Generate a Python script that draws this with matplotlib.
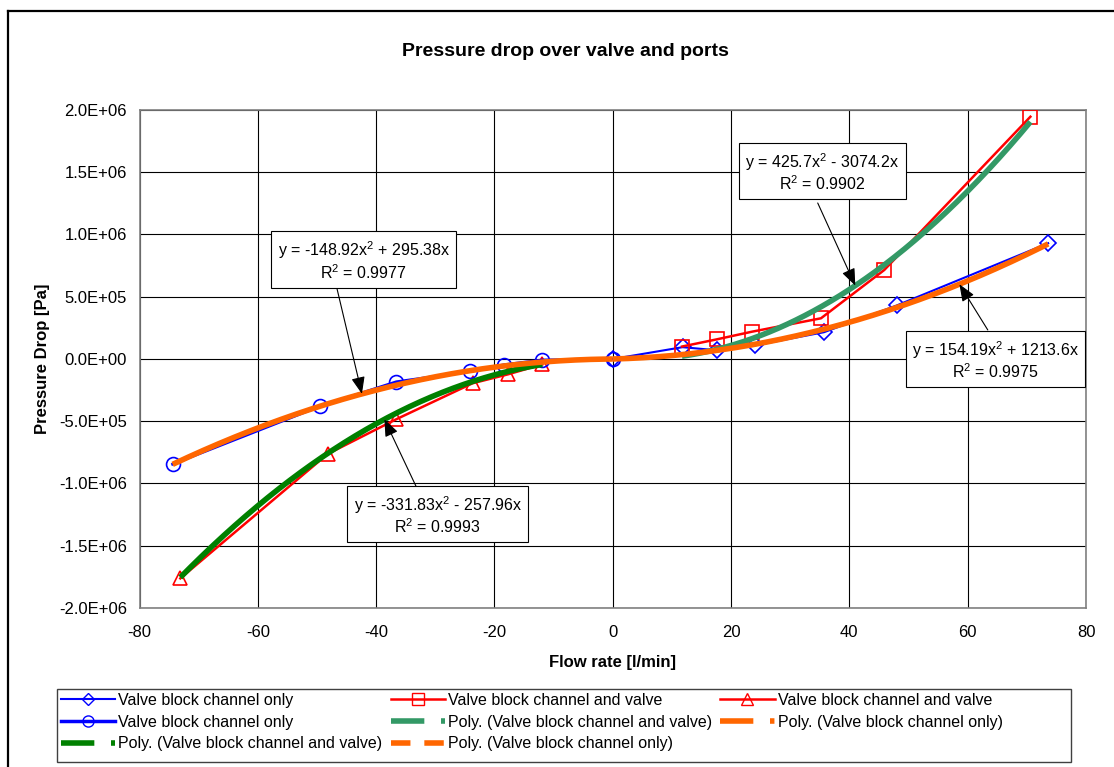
import matplotlib
matplotlib.use("Agg")
import matplotlib.pyplot as plt
import numpy as np
from matplotlib.lines import Line2D
from matplotlib.patches import Rectangle
from matplotlib.ticker import FuncFormatter, MultipleLocator

plt.rcParams["font.family"] = ["Liberation Sans", "DejaVu Sans"]
plt.rcParams["axes.unicode_minus"] = False
plt.rcParams["mathtext.fontset"] = "custom"
plt.rcParams["mathtext.rm"] = "Liberation Sans"
plt.rcParams["mathtext.it"] = "Liberation Sans:italic"

# measured points: flow rate [l/min], pressure drop [Pa]
flow_only_pos = [0.0, 11.8, 17.6, 24.1, 35.7, 48.0, 73.6]
dp_only_pos = [0.0, 0.95e5, 0.70e5, 1.10e5, 2.15e5, 4.30e5, 9.30e5]

flow_only_neg = [-74.4, -49.5, -36.6, -24.1, -18.4, -12.0, 0.0]
dp_only_neg = [-8.45e5, -3.80e5, -1.83e5, -1.00e5, -0.46e5, -0.08e5, 0.0]

flow_valve_pos = [11.7, 17.6, 23.5, 35.2, 45.9, 70.6]
dp_valve_pos = [1.00e5, 1.58e5, 2.19e5, 3.27e5, 7.15e5, 1.946e6]

flow_valve_neg = [-73.1, -48.2, -36.6, -23.7, -17.7, -11.9]
dp_valve_neg = [-1.762e6, -7.63e5, -4.84e5, -1.95e5, -1.23e5, -0.43e5]

# Excel "Poly." trendlines, coefficients for x^2, x, 1
coef_only_pos = [154.19, 1213.6, 0.0]
coef_only_neg = [-148.92, 295.38, 0.0]
coef_valve_pos = [425.7, -3074.2, 0.0]
coef_valve_neg = [-331.83, -257.96, 0.0]

eq_only_pos = "y = 154.19x$^2$ + 1213.6x\nR$^2$ = 0.9975"
eq_only_neg = "y = -148.92x$^2$ + 295.38x\nR$^2$ = 0.9977"
eq_valve_pos = "y = 425.7x$^2$ - 3074.2x\nR$^2$ = 0.9902"
eq_valve_neg = "y = -331.83x$^2$ - 257.96x\nR$^2$ = 0.9993"

BLUE = "#0000FF"
RED = "#FF0000"
ORANGE = "#FF6600"
SEA = "#339966"
GREEN = "#008000"

W, H = 1114, 767
fig = plt.figure(figsize=(W / 100, H / 100), dpi=100)


def fpos(x, y):
    """pixel position (from top-left) -> figure fraction"""
    return x / W, 1 - y / H


ax = fig.add_axes([139.5 / W, 1 - 608 / H, 946.5 / W, 498 / H])

# data series
ax.plot(flow_only_pos, dp_only_pos, color=BLUE, lw=1.5, marker="D", ms=8,
        mfc="none", mec=BLUE, mew=1.2, zorder=3)
ax.plot(flow_valve_pos, dp_valve_pos, color=RED, lw=1.8, marker="s", ms=10,
        mfc="none", mec=RED, mew=1.2, zorder=3)
ax.plot(flow_valve_neg, dp_valve_neg, color=RED, lw=1.8, marker="^", ms=10,
        mfc="none", mec=RED, mew=1.2, zorder=3)
ax.plot(flow_only_neg, dp_only_neg, color=BLUE, lw=2.0, marker="o", ms=10,
        mfc="none", mec=BLUE, mew=1.2, zorder=3)


def trend(coef, xs, color):
    x = np.linspace(min(xs), max(xs), 200)
    ax.plot(x, np.polyval(coef, x), color=color, lw=4.0, solid_capstyle="butt", zorder=4)


trend(coef_valve_pos, flow_valve_pos, SEA)
trend(coef_only_pos, flow_only_pos, ORANGE)
trend(coef_valve_neg, flow_valve_neg, GREEN)
trend(coef_only_neg, flow_only_neg, ORANGE)

# equation labels with arrows to their curve
box = dict(boxstyle="square,pad=0.4", fc="white", ec="black", lw=0.8)
labels = [
    (eq_only_neg, (-42.1, 7.91e5), (-46.6, 5.62e5), coef_only_neg, -42.4),
    (eq_valve_neg, (-29.6, -1.253e6), (-33.2, -1.028e6), coef_valve_neg, -38.6),
    (eq_valve_pos, (35.4, 1.502e6), (34.65, 1.253e6), coef_valve_pos, 41.0),
    (eq_only_pos, (64.7, -0.08e5), (63.4, 2.33e5), coef_only_pos, 58.6),
]
for text, (bx, by), (sx, sy), coef, tx in labels:
    ax.text(bx, by, text, ha="center", va="center", fontsize=11.5,
            multialignment="center", linespacing=1.1, bbox=box, zorder=6)
    ax.annotate("", xy=(tx, np.polyval(coef, tx)), xytext=(sx, sy), zorder=5,
                arrowprops=dict(arrowstyle="-|>,head_length=0.8,head_width=0.32",
                                color="black", lw=0.8, shrinkA=0, shrinkB=0,
                                mutation_scale=13))

ax.set_xlim(-80, 80)
ax.set_ylim(-2.0e6, 2.0e6)
ax.xaxis.set_major_locator(MultipleLocator(20))
ax.yaxis.set_major_locator(MultipleLocator(5e5))
ax.yaxis.set_major_formatter(FuncFormatter(lambda v, _: f"{v:.1E}"))
ax.grid(True, color="black", lw=0.8)
ax.set_axisbelow(True)
ax.tick_params(length=0, labelsize=12)
ax.tick_params(axis="y", pad=9)
ax.tick_params(axis="x", pad=12)
for sp in ax.spines.values():
    sp.set_color("#808080")
    sp.set_linewidth(1.2)

ax.set_xlabel("Flow rate [l/min]", fontsize=12, fontweight="bold")
ax.set_ylabel("Pressure Drop [Pa]", fontsize=12, fontweight="bold")
ax.xaxis.set_label_coords(0.5, -0.094)
ax.yaxis.set_label_coords(-0.095, 0.5)

tx, ty = fpos(565, 51)
fig.text(tx, ty, "Pressure drop over valve and ports", ha="center", va="center",
         fontsize=14, fontweight="bold")

# chart frame (left and top edges only fit in the image)
fig.add_artist(Line2D([8 / W, 8 / W], [0, 1 - 11 / H], transform=fig.transFigure,
                      color="black", lw=1.6))
fig.add_artist(Line2D([8 / W, 1], [1 - 11 / H, 1 - 11 / H], transform=fig.transFigure,
                      color="black", lw=1.6))

# legend, ordered column by column
lw_poly = 4.0
handles = [
    Line2D([], [], color=BLUE, lw=1.5, marker="D", ms=6, mfc="none", mec=BLUE),
    Line2D([], [], color=BLUE, lw=2.5, marker="o", ms=8, mfc="none", mec=BLUE),
    Line2D([], [], color=GREEN, lw=lw_poly, dashes=(6, 3, 0.8, 3)),
    Line2D([], [], color=RED, lw=1.8, marker="s", ms=8, mfc="none", mec=RED),
    Line2D([], [], color=SEA, lw=lw_poly, dashes=(6, 3, 0.8, 3)),
    Line2D([], [], color=ORANGE, lw=lw_poly, dashes=(3.5, 2.5)),
    Line2D([], [], color=RED, lw=1.8, marker="^", ms=8, mfc="none", mec=RED),
    Line2D([], [], color=ORANGE, lw=lw_poly, dashes=(6, 3, 0.8, 3)),
]
names = [
    "Valve block channel only",
    "Valve block channel only",
    "Poly. (Valve block channel and valve)",
    "Valve block channel and valve",
    "Poly. (Valve block channel and valve)",
    "Poly. (Valve block channel only)",
    "Valve block channel and valve",
    "Poly. (Valve block channel only)",
]
lx, ly = fpos(57, 689)
fig.legend(handles, names, loc="upper left", bbox_to_anchor=(lx, ly), ncol=3,
           frameon=False, fontsize=11.5, handlelength=3.4, handletextpad=0.2,
           columnspacing=0.5, labelspacing=0.42, borderpad=0.25, borderaxespad=0)
x0, y0 = fpos(57, 762)
x1, y1 = fpos(1071, 689)
fig.add_artist(Rectangle((x0, y0), x1 - x0, y1 - y0, transform=fig.transFigure,
                         fill=False, ec="#404040", lw=1.0))

fig.savefig("out.png", dpi=100)
